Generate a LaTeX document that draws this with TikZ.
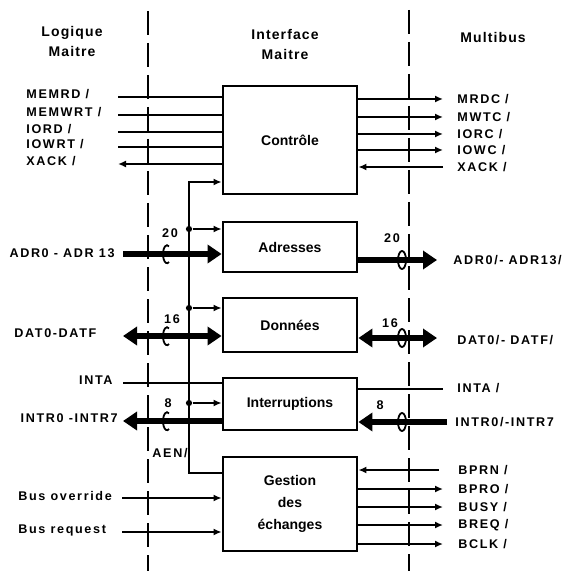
\documentclass[tikz,border=0pt]{standalone}
\usepackage{fontspec}
\setmainfont{Liberation Sans}
\newfontfamily\sigfamily{Liberation Sans}[LetterSpace=13]
\newfontfamily\hdrfamily{Liberation Sans}[LetterSpace=8]
\usetikzlibrary{arrows.meta}
\begin{document}
\begin{tikzpicture}
[
    x=0.5pt, y=-0.5pt,
    sig/.style={font=\sigfamily\bfseries\fontsize{6.3}{7}\selectfont, inner sep=0pt},
    hdr/.style={font=\hdrfamily\bfseries\fontsize{7}{10}\selectfont, align=center, inner sep=0pt},
    blk/.style={draw, line width=1.4pt, minimum width=67pt, align=center,
        font=\bfseries\fontsize{7}{11}\selectfont},
    wire/.style={line width=0.9pt},
    tip/.style={-{Latex[length=4pt,width=3.5pt]}},
    tipback/.style={{Latex[length=4pt,width=3.5pt]}-},
    bus/.style={line width=3pt},
    bustip/.style={-{Triangle[length=7pt,width=9pt]}},
    busboth/.style={{Triangle[length=7pt,width=9pt]}-{Triangle[length=7pt,width=9pt]}},
    border/.style={line width=1pt, dash pattern=on 12pt off 4pt},
    dot/.style={circle, fill, inner sep=1.1pt},
]
\useasboundingbox (0,0) rectangle (568,571);

% headers and separators
\node[hdr] (logic) at (72,42) {Logique\\Maitre};
\node[hdr] (iface) at (285,45) {Interface\\Maitre};
\node[hdr] (mbus) at (493,38) {Multibus};
\coordinate (sepL-t) at (148,11);
\coordinate (sepL-b) at (148,571);
\coordinate (sepR-t) at (409,10);
\coordinate (sepR-b) at (409,571);
\draw[border] (sepL-t) -- (sepL-b);
\draw[border] (sepR-t) -- (sepR-b);

% blocks
\node[blk, minimum height=54pt] (ctrl) at (290,140) {Contrôle};
\node[blk, minimum height=25pt] (addr) at (290,247) {Adresses};
\node[blk, minimum height=27pt] (data) at (290,325) {Données};
\node[blk, minimum height=26pt] (intr) at (290,404) {Interruptions};
\node[blk, minimum height=47pt] (gest) at (290,504) {Gestion\\des\\échanges};

% control lines
\foreach \y/\n/\t in {97/memrd/{MEMRD /},115/memwrt/{MEMWRT /},132/iord/{IORD /},147/iowrt/{IOWRT /}}{
    \node[sig, anchor=west] (\n) at (26,\y-3) {\t};
    \coordinate (\n-e) at (118,\y);
    \draw[wire] (\n-e) -- (\n-e -| ctrl.west);
}
\node[sig, anchor=west] (xackl) at (26,161) {XACK /};
\coordinate (xackl-e) at (118,164);
\draw[wire,tipback] (xackl-e) -- (xackl-e -| ctrl.west);
\foreach \y/\n/\t in {99/mrdc/{MRDC /},117/mwtc/{MWTC /},134/iorc/{IORC /},150/iowc/{IOWC /}}{
    \coordinate (\n-e) at (443,\y);
    \node[sig, anchor=west] (\n) at (457,\y) {\t};
    \draw[wire,tip] (\n-e -| ctrl.east) -- (\n-e);
}
\coordinate (xackr-e) at (443,167);
\node[sig, anchor=west] (xackr) at (457,167) {XACK /};
\draw[wire,tip] (xackr-e) -- (xackr-e -| ctrl.east);

% AEN/ distribution
\coordinate (aen-t) at (189,182);
\coordinate (aen-b) at (189,473);
\draw[wire,tip] (aen-b -| gest.west) -- (aen-b) -- (aen-t) -- (aen-t -| ctrl.west);
\foreach \y/\n in {229/addr,308/data,403/intr}{
    \node[dot] (j-\n) at (189,\y) {};
    \draw[wire,tip] (j-\n) -- (j-\n -| \n.west);
}
\node[sig] (aen) at (170,453) {AEN/};

% addresses
\node[sig, anchor=east] (adrl) at (115,253) {ADR0 - ADR 13};
\coordinate (adrl-e) at (123,254);
\draw[bus,bustip] (adrl-e) -- (adrl-e -| addr.west);
\node[sig] (n20l) at (170,233) {20};
\draw[wire] (169,262) arc (60:300:4 and 9);
\coordinate (adrr-e) at (437,260);
\draw[bus,bustip] (adrr-e -| addr.east) -- (adrr-e);
\node[sig] (n20r) at (392,238) {20};
\draw[wire] (402,260) ellipse (4 and 9);
\node[sig, anchor=west] (adrr) at (453,260) {ADR0/- ADR13/};

% data
\node[sig, anchor=west] (datl) at (14,333) {DAT0-DATF};
\coordinate (datl-e) at (123,336);
\draw[bus,busboth] (datl-e) -- (datl-e -| data.west);
\node[sig] (n16l) at (172,319) {16};
\draw[wire] (169,344) arc (60:300:4 and 9);
\coordinate (datr-e) at (437,338);
\draw[bus,busboth] (datr-e -| data.east) -- (datr-e);
\node[sig] (n16r) at (390,323) {16};
\draw[wire] (402,338) ellipse (4 and 9);
\node[sig, anchor=west] (datr) at (457,340) {DAT0/- DATF/};

% interrupts
\node[sig, anchor=east] (intal) at (113,380) {INTA};
\coordinate (intal-e) at (123,383);
\draw[wire] (intal-e) -- (intal-e -| intr.west);
\coordinate (intar-e) at (443,389);
\draw[wire] (intar-e -| intr.east) -- (intar-e);
\node[sig, anchor=west] (intar) at (457,388) {INTA /};
\node[sig, anchor=east] (intrl) at (118,418) {INTR0 -INTR7};
\coordinate (intrl-e) at (123,421);
\draw[bus,bustip] (intrl-e -| intr.west) -- (intrl-e);
\node[sig] (n8l) at (168,403) {8};
\draw[wire] (169,429) arc (60:300:4 and 9);
\coordinate (intrr-e) at (447,422);
\draw[bus,bustip] (intrr-e) -- (intrr-e -| intr.east);
\node[sig] (n8r) at (380,405) {8};
\draw[wire] (402,422) ellipse (4 and 9);
\node[sig, anchor=west] (intrr) at (455,422) {INTR0/-INTR7};

% bus exchange
\foreach \y/\n/\t in {498/bovr/{Bus override},532/breqin/{Bus request}}{
    \node[sig, anchor=west] (\n) at (18,\y-2) {\t};
    \coordinate (\n-e) at (122,\y);
    \draw[wire,tip] (\n-e) -- (\n-e -| gest.west);
}
\coordinate (bprn-e) at (439,470);
\node[sig, anchor=west] (bprn) at (458,470) {BPRN /};
\draw[wire,tip] (bprn-e) -- (bprn-e -| gest.east);
\foreach \y/\n/\t in {489/bpro/{BPRO /},507/busy/{BUSY /},525/breq/{BREQ /},544/bclk/{BCLK /}}{
    \coordinate (\n-e) at (443,\y);
    \node[sig, anchor=west] (\n) at (458,\y) {\t};
    \draw[wire,tip] (\n-e -| gest.east) -- (\n-e);
}
\end{tikzpicture}
\end{document}
